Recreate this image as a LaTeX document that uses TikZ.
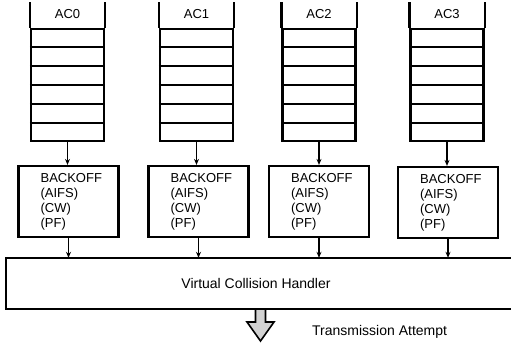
\documentclass[tikz,border=0pt]{standalone}
\usepackage{fontspec}
\setmainfont{Liberation Sans}
\usetikzlibrary{arrows.meta, positioning, calc}

\begin{document}
\begin{tikzpicture}[x=1pt, y=-1pt,
    box/.style={draw, line width=2.2pt, inner sep=0pt},
    queue/.style={box, minimum width=73pt, minimum height=112pt},
    backoff/.style={box, minimum width=100pt, minimum height=71pt},
    lbl/.style={inner sep=0pt, font=\fontsize{13}{15}\selectfont},
    big/.style={inner sep=0pt, font=\fontsize{14}{16}\selectfont},
    flow/.style={-{Stealth[length=6pt,width=5pt]}, line width=1.6pt}]
  \useasboundingbox (0,0) rectangle (511,343);
  \clip (0,0) rectangle (511,343);

  % Define the nodes
  \node[queue] (q0) at (67.5,85) {};
  \node[queue] (q1) at (196.5,85) {};
  \node[queue] (q2) at (319,85) {};
  \node[queue] (q3) at (447,85) {};

  \node[lbl, above=9pt of q0] (ac0) {AC0};
  \node[lbl, above=9pt of q1] (ac1) {AC1};
  \node[lbl, above=9pt of q2] (ac2) {AC2};
  \node[lbl, above=9pt of q3] (ac3) {AC3};

  \node[backoff] (b0) at (68.5,201.5) {};
  \node[backoff] (b1) at (198.5,201.5) {};
  \node[backoff] (b2) at (319,201.5) {};
  \node[backoff] (b3) at (448,202.5) {};

  \foreach \b in {b0,b1,b2,b3}
    \node[lbl, align=left, anchor=west] (t\b) at ([xshift=23pt]\b.west) {BACKOFF\\(AIFS)\\(CW)\\(PF)};

  \node[big, minimum width=500pt, minimum height=51pt] (vch) at (256,283.5) {Virtual Collision Handler};
  \coordinate (out) at (260.5,309);
  \node[big, anchor=west] (tx) at (312,332) {Transmission Attempt};

  % Queue slots and open walls
  \foreach \q in {q0,q1,q2,q3} {
    \foreach \i in {1,...,5}
      \draw[line width=2.2pt] ($(\q.north west)!\i/6!(\q.south west)$) -- ($(\q.north east)!\i/6!(\q.south east)$);
    \draw[line width=2.2pt] (\q.north west) -- ++(0,-26);
    \draw[line width=2.2pt] (\q.north east) -- ++(0,-26);
  }

  % Handler box, open on the right
  \draw[line width=2.4pt] ([xshift=20pt]vch.north east) -| (vch.south west) -- ([xshift=20pt]vch.south east);

  % Draw the edges
  \foreach \q/\b in {q0/b0,q1/b1,q2/b2,q3/b3} {
    \draw[flow] (\q.south) -- (\q.south |- \b.north);
    \draw[flow] (\b.south) -- (\b.south |- vch.north);
  }

  % Output arrow
  \draw[line width=1.6pt, fill=gray!35] (out) ++(-5,0) -- ++(0,13) -- ++(-8.5,0) -- ++(13.5,19)
    -- ++(13.5,-19) -- ++(-8.5,0) -- ++(0,-13) -- cycle;
\end{tikzpicture}
\end{document}
